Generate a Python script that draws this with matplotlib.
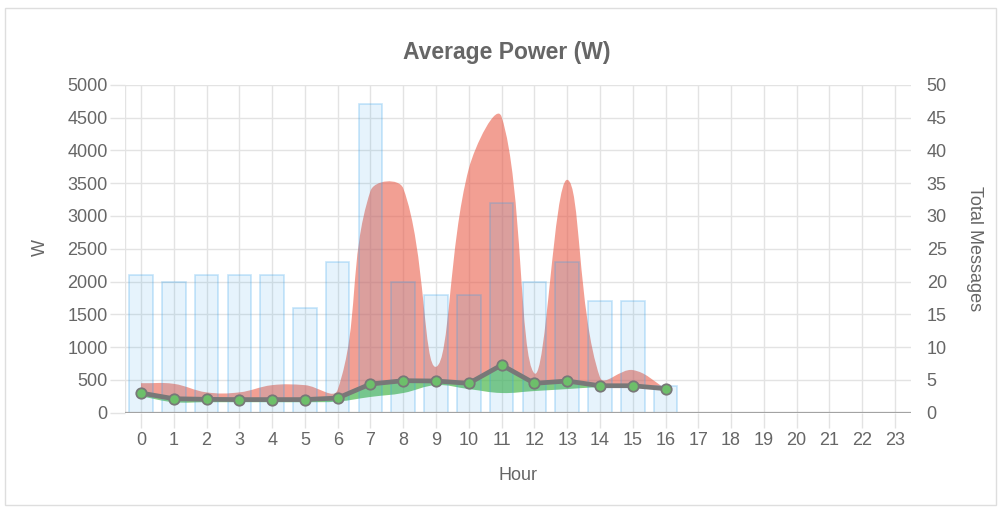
import numpy as np
import matplotlib.pyplot as plt
from matplotlib.path import Path
from matplotlib.patches import PathPatch, Rectangle

plt.rcParams['font.family'] = ['Liberation Sans', 'DejaVu Sans']

# datos
hours = list(range(24))
hour_labels = [str(h) for h in hours]
msgs = [21, 20, 21, 21, 21, 16, 23, 47, 20, 18, 18, 32, 20, 23, 17, 17, 4, 0, 0, 0, 0, 0, 0, 0]
avg_w = [300, 213, 204, 200, 200, 200, 224, 437, 488, 483, 448, 727, 448, 483, 411, 411, 366]
max_w = [450, 440, 310, 310, 420, 420, 350, 3380, 3420, 700, 3720, 4510, 600, 3550, 540, 650, 370]
min_w = [250, 160, 160, 160, 160, 160, 170, 240, 300, 420, 360, 300, 330, 360, 390, 400, 366]
w_ticks = list(range(0, 5001, 500))
msg_ticks = list(range(0, 51, 5))

W, H = 999, 509
fig = plt.figure(figsize=(W / 100, H / 100), dpi=100)
left, right, top, bottom = 124.6, 911.4, 84.7, 412.7
ax = fig.add_axes([left / W, 1 - bottom / H, (right - left) / W, (bottom - top) / H])
ax.set_xlim(-0.5, 23.5)
ax.set_ylim(0, 5000)
ax2 = ax.twinx()
ax2.set_ylim(0, 50)

grid_c = '#e3e3e3'
text_c = '#666666'


def spline(xs, ys, tension=0.4):
    # curva tipo Chart.js calculada en pixeles
    pts = ax.transData.transform(np.column_stack([xs, ys]))
    n = len(pts)
    cp_prev, cp_next = [], []
    for i in range(n):
        prev = pts[max(i - 1, 0)]
        cur = pts[i]
        nxt = pts[min(i + 1, n - 1)]
        d01 = np.hypot(*(cur - prev))
        d12 = np.hypot(*(nxt - cur))
        tot = d01 + d12
        fa = tension * (d01 / tot if tot else 0)
        fb = tension * (d12 / tot if tot else 0)
        cp_prev.append(cur - fa * (nxt - prev))
        cp_next.append(cur + fb * (nxt - prev))
    verts = [pts[0]]
    for i in range(n - 1):
        verts += [cp_next[i], cp_prev[i + 1], pts[i + 1]]
    return ax.transData.inverted().transform(np.array(verts))


xs = hours[:len(avg_w)]
avg_pts = np.column_stack([xs, avg_w])

# area roja: maximo hasta el promedio
top_curve = spline(xs, max_w)
verts = list(top_curve) + list(avg_pts[::-1]) + [top_curve[0]]
codes = [Path.MOVETO] + [Path.CURVE4] * (len(top_curve) - 1) + [Path.LINETO] * len(avg_pts) + [Path.CLOSEPOLY]
ax.add_patch(PathPatch(Path(verts, codes), facecolor=(233 / 255, 90 / 255, 70 / 255, 0.58), edgecolor='none', zorder=2))

# area verde: promedio hasta el minimo
low_curve = spline(xs, min_w)[::-1]
verts = list(avg_pts) + list(low_curve) + [avg_pts[0]]
codes = [Path.MOVETO] + [Path.LINETO] * (len(avg_pts) - 1) + [Path.LINETO] + [Path.CURVE4] * (len(low_curve) - 1) + [Path.CLOSEPOLY]
ax.add_patch(PathPatch(Path(verts, codes), facecolor=(80 / 255, 185 / 255, 80 / 255, 0.72), edgecolor='none', zorder=2))

# barras de mensajes
ax2.bar(hours, msgs, width=0.72, color=(54 / 255, 162 / 255, 235 / 255, 0.12),
        edgecolor=(54 / 255, 162 / 255, 235 / 255, 0.28), linewidth=1.2, zorder=1)
ax2.axhline(0, color='#a3a3a3', lw=1.6, zorder=2)

# linea promedio
ax2.plot(xs, avg_w, transform=ax.transData, color='#787878', lw=3.4,
         marker='o', markersize=7.5, markerfacecolor='#6dbf6a', markeredgecolor='#787878',
         markeredgewidth=1.3, zorder=3)

ax.set_xticks(hours)
ax.set_xticklabels(hour_labels)
ax.set_yticks(w_ticks)
ax2.set_yticks(msg_ticks)
ax.grid(True, color=grid_c, lw=1)
ax.set_axisbelow(True)
ax.axvline(-0.5, color=grid_c, lw=1, zorder=0)
ax.tick_params(axis='both', length=10.8, width=1, color=grid_c, labelcolor=text_c, labelsize=13)
ax.tick_params(axis='y', pad=1.5)
ax.tick_params(axis='x', pad=3)
ax2.tick_params(axis='y', length=0, pad=11, labelcolor=text_c, labelsize=13)
for a in (ax, ax2):
    for s in a.spines.values():
        s.set_visible(False)

fig.text(507 / W, 1 - 59.5 / H, 'Average Power (W)', ha='center', va='baseline',
         fontsize=16.5, fontweight='bold', color=text_c)
fig.text(40 / W, 1 - 248 / H, 'W', rotation=90, ha='center', va='center', fontsize=13, color=text_c)
fig.text(975 / W, 1 - 249 / H, 'Total Messages', rotation=270, ha='center', va='center', fontsize=13, color=text_c)
fig.text(518 / W, 1 - 480 / H, 'Hour', ha='center', va='baseline', fontsize=13, color=text_c)

fig.patches.append(Rectangle((5 / W, 1 - 505 / H), 991 / W, 497 / H, transform=fig.transFigure,
                             fill=False, edgecolor='#dedede', lw=1))

fig.savefig('out.png', dpi=100)
